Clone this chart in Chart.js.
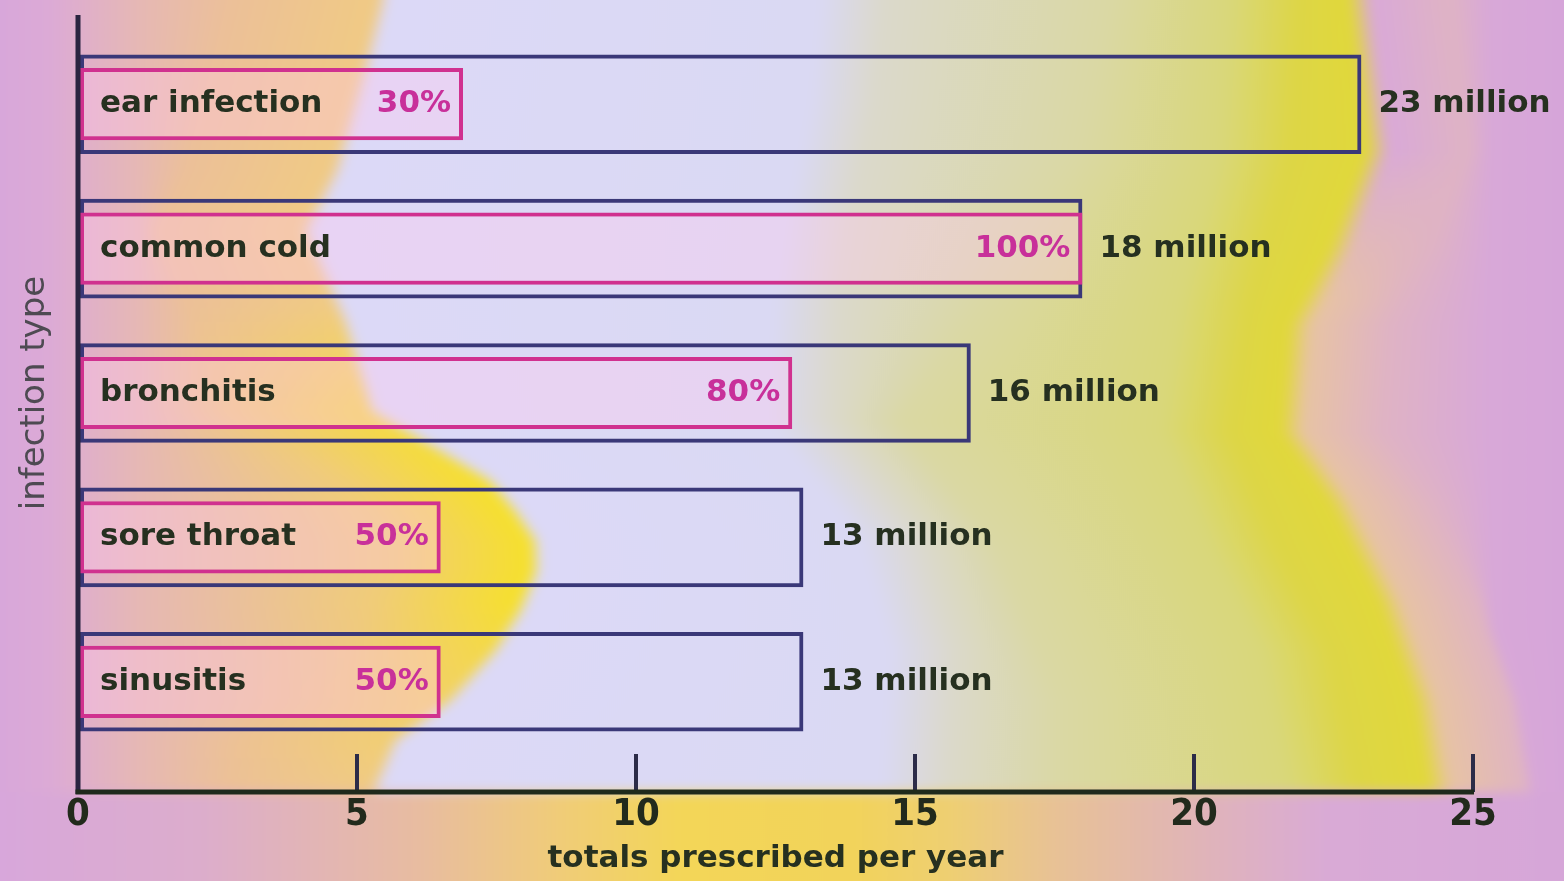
<!DOCTYPE html>
<html lang="en">
<head>
<meta charset="utf-8">
<title>Antibiotic prescriptions by infection type</title>
<script src="https://cdn.jsdelivr.net/npm/chart.js@4.4.1/dist/chart.umd.min.js"></script>
<style>
  html, body { margin: 0; padding: 0; background: #d9a8da; overflow: hidden; }
  canvas { display: block; }
</style>
</head>
<body>
<canvas id="prescriptionsChart" width="1564" height="881"></canvas>
<script>
// Prescriptions per year (millions) and the percentage share shown in each bar
const categories = ['ear infection', 'common cold', 'bronchitis', 'sore throat', 'sinusitis'];
const totalsMillions = [23, 18, 16, 13, 13];
const sharePercent = [30, 100, 80, 50, 50];
const xTicks = [0, 5, 10, 15, 20, 25];

const shareMillions = totalsMillions.map((total, i) => total * sharePercent[i] / 100);

const labelFont = '"DejaVu Sans", "Liberation Sans", sans-serif';
const tickFont = '"Liberation Sans Narrow", "DejaVu Sans Condensed", "Liberation Sans", sans-serif';
const inkColor = '#263020';
const AXIS_DROP = 38; // gap between the plot bottom and the drawn x axis line

// Wavy colour band edges for the background wash, as [y, x] pairs
const warmEdge = [[-40, 385], [0, 383], [60, 368], [170, 337], [230, 306], [320, 345], [410, 372], [450, 440], [480, 490], [510, 515], [540, 535], [570, 536], [610, 520], [650, 495], [700, 450], [740, 395], [800, 370]];
const greyEdge = [[-40, 860], [0, 860], [100, 850], [220, 826], [300, 815], [420, 808], [540, 900], [650, 930], [800, 920]];
const paleEdge = [[-40, 1110], [0, 1110], [150, 1080], [280, 997], [420, 900], [550, 1000], [700, 1060], [800, 1060]];
const yellowEdge = [[-40, 1250], [0, 1250], [150, 1240], [300, 1200], [430, 1180], [550, 1230], [650, 1280], [800, 1310]];
const rimEdge = [[-40, 1360], [0, 1360], [150, 1378], [250, 1340], [324, 1300], [432, 1292], [500, 1340], [600, 1390], [700, 1425], [800, 1442]];
const bulgeWarmth = [[0, 0], [300, 0], [400, 0.6], [480, 1], [600, 1], [700, 0.35], [790, 0]];
const rightPeach = [[0, 0], [150, 0], [300, 1], [900, 1]];

const bottomStops = [[0, '#d8a7db'], [200, '#dcadcc'], [420, '#e8bca0'], [560, '#f0cc78'], [680, '#f3d658'], [850, '#f2d35a'], [950, '#eecf72'], [1050, '#e8c294'], [1200, '#e0b4b8'], [1330, '#d9aad6'], [1564, '#d6a6d8']];

function edgeAt(edge, y) {
    if (y <= edge[0][0]) return edge[0][1];
    for (let i = 1; i < edge.length; i++) {
        if (y <= edge[i][0]) {
            const [y0, x0] = edge[i - 1];
            const [y1, x1] = edge[i];
            return x0 + (x1 - x0) * (y - y0) / (y1 - y0);
        }
    }
    return edge[edge.length - 1][1];
}

function hexToRgb(hex) {
    const n = parseInt(hex.slice(1), 16);
    return [n >> 16, (n >> 8) & 255, n & 255];
}

function mix(a, b, t) {
    const ca = hexToRgb(a), cb = hexToRgb(b);
    const c = ca.map((v, i) => Math.round(v + (cb[i] - v) * t));
    return `rgb(${c[0]},${c[1]},${c[2]})`;
}

function rowStops(y) {
    const warm = edgeAt(warmEdge, y);
    const grey = edgeAt(greyEdge, y);
    const pale = edgeAt(paleEdge, y);
    const yellow = edgeAt(yellowEdge, y);
    const rim = edgeAt(rimEdge, y);
    const heat = edgeAt(bulgeWarmth, y);
    const peach = edgeAt(rightPeach, y);
    return [
        [0, '#d8a7da'],
        [50, '#dcaad6'],
        [140, '#e6b8b4'],
        [warm - 150, mix('#ecc098', '#f0cc78', heat)],
        [warm - 6, mix('#f0ca84', '#f6e02c', heat)],
        [warm + 6, '#dcd9f7'],
        [grey - 40, '#dad9f3'],
        [grey + 25, '#dbd9cb'],
        [pale, '#dad8a4'],
        [yellow - 20, '#d9d77a'],
        [yellow + 50, '#ddd646'],
        [rim - 12, '#e1d83a'],
        [rim + 12, mix('#d9a9d8', '#e7c3a4', peach)],
        [rim + 90, '#dfb3c4'],
        [1490, '#d8a8d8'],
        [1564, '#d6a5d9']
    ];
}

function buildBackdrop(width, height, axisY) {
    const pad = 20;
    const canvas = document.createElement('canvas');
    canvas.width = width + pad * 2;
    canvas.height = height + pad * 2;
    const g = canvas.getContext('2d');
    const step = 2;
    for (let y = -pad; y < height + pad; y += step) {
        const stops = y < axisY ? rowStops(y) : bottomStops;
        const grad = g.createLinearGradient(0, 0, canvas.width, 0);
        let last = 0;
        stops.forEach(([x, color]) => {
            const off = Math.min(1, Math.max(last, (x + pad) / canvas.width));
            last = off;
            grad.addColorStop(off, color);
        });
        g.fillStyle = grad;
        g.fillRect(0, y + pad, canvas.width, step + 0.5);
    }
    return canvas;
}

let backdrop = null;

const backdropPlugin = {
    id: 'backdrop',
    beforeDraw(chart) {
        const {ctx, width, height, chartArea} = chart;
        if (!backdrop) backdrop = buildBackdrop(width, height, chartArea.bottom + AXIS_DROP);
        ctx.save();
        ctx.filter = 'blur(6px)';
        ctx.drawImage(backdrop, -20, -20);
        ctx.restore();
    }
};

// Heavy axis lines: the y axis runs above the plot, the x axis sits under the tick marks
const axisLinesPlugin = {
    id: 'axisLines',
    afterDatasetsDraw(chart) {
        const {ctx, chartArea, scales} = chart;
        const x0 = scales.x.getPixelForValue(xTicks[0]);
        const x1 = scales.x.getPixelForValue(xTicks[xTicks.length - 1]);
        const axisY = chartArea.bottom + AXIS_DROP;
        ctx.save();
        ctx.lineWidth = 5;
        ctx.strokeStyle = '#2a2440';
        ctx.beginPath();
        ctx.moveTo(x0, chartArea.top - 17);
        ctx.lineTo(x0, axisY + 2);
        ctx.stroke();
        ctx.strokeStyle = '#1f2a1c';
        ctx.beginPath();
        ctx.moveTo(x0 - 2.5, axisY);
        ctx.lineTo(x1 + 1, axisY);
        ctx.stroke();
        ctx.restore();
    }
};

// Category names inside the bars, percentages at the end of the inner bar, totals after the outer bar
const barLabelsPlugin = {
    id: 'barLabels',
    afterDatasetsDraw(chart) {
        const {ctx, chartArea} = chart;
        const shareBars = chart.getDatasetMeta(0).data;
        const totalBars = chart.getDatasetMeta(1).data;
        ctx.save();
        ctx.font = 'bold 31px ' + labelFont;
        ctx.textBaseline = 'middle';
        categories.forEach((name, i) => {
            const outer = totalBars[i];
            const inner = shareBars[i];
            ctx.fillStyle = inkColor;
            ctx.textAlign = 'left';
            ctx.fillText(name, chartArea.left + 22, outer.y);
            ctx.fillText(totalsMillions[i] + ' million', outer.x + 17, outer.y);
            ctx.fillStyle = '#c8309a';
            ctx.textAlign = 'right';
            ctx.fillText(sharePercent[i] + '%', inner.x - 12, inner.y);
        });
        ctx.restore();
    }
};

const ctx = document.getElementById('prescriptionsChart').getContext('2d');
new Chart(ctx, {
    type: 'bar',
    data: {
        labels: categories,
        datasets: [{
            label: 'share',
            data: shareMillions,
            backgroundColor: 'rgba(255, 200, 238, 0.36)',
            borderColor: '#d0318f',
            borderWidth: 4,
            borderSkipped: false,
            barPercentage: 0.5,
            categoryPercentage: 1,
            grouped: false,
            order: 0
        }, {
            label: 'total',
            data: totalsMillions,
            backgroundColor: 'rgba(0, 0, 0, 0)',
            borderColor: '#3a3878',
            borderWidth: 4,
            borderSkipped: false,
            barPercentage: 0.69,
            categoryPercentage: 1,
            grouped: false,
            order: 1
        }]
    },
    options: {
        indexAxis: 'y',
        responsive: false,
        animation: false,
        devicePixelRatio: 1,
        layout: {
            padding: { top: 32, right: 91, bottom: 0, left: 0 }
        },
        plugins: {
            legend: { display: false },
            tooltip: { enabled: false }
        },
        scales: {
            x: {
                type: 'linear',
                position: 'bottom',
                min: xTicks[0],
                max: xTicks[xTicks.length - 1],
                ticks: {
                    stepSize: xTicks[1] - xTicks[0],
                    color: '#222a1c',
                    padding: 4,
                    font: { family: tickFont, size: 38, weight: 'bold', lineHeight: 1 }
                },
                grid: {
                    display: true,
                    drawOnChartArea: false,
                    drawTicks: true,
                    tickLength: AXIS_DROP,
                    color: '#2c2c48',
                    lineWidth: 4
                },
                border: { display: false },
                title: {
                    display: true,
                    text: 'totals prescribed per year',
                    color: inkColor,
                    font: { family: labelFont, size: 31, weight: 'bold', lineHeight: 1.2 },
                    padding: { top: 2.4, bottom: 3.4 }
                }
            },
            y: {
                type: 'category',
                ticks: { display: false },
                grid: { display: false },
                border: { display: false },
                title: {
                    display: true,
                    text: 'infection type',
                    color: '#4e4a52',
                    font: { family: labelFont, size: 34, weight: 'normal', lineHeight: 1.2 },
                    padding: { top: 14.6, bottom: 14.6 }
                }
            }
        }
    },
    plugins: [backdropPlugin, axisLinesPlugin, barLabelsPlugin]
});
</script>
</body>
</html>
